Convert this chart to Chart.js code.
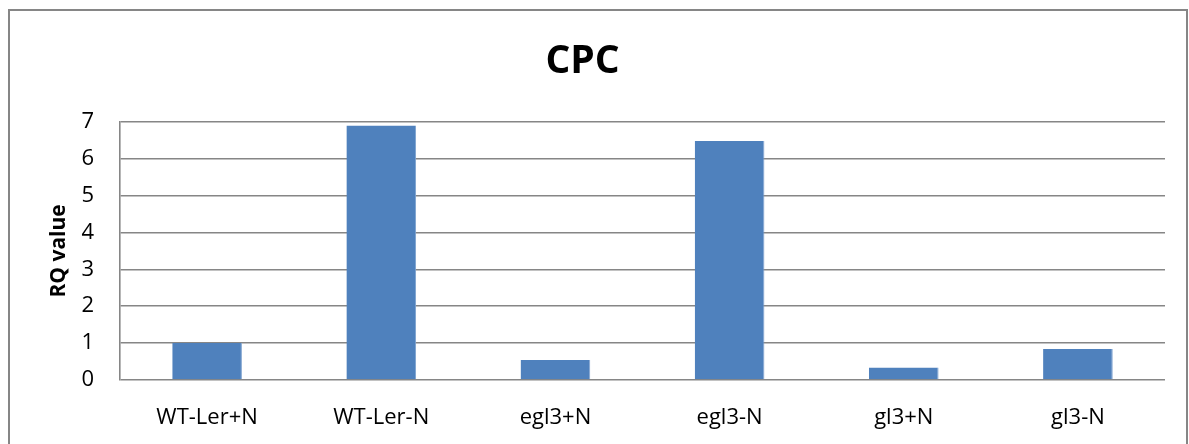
<!DOCTYPE html>
<html>
<head>
<meta charset="utf-8">
<script src="https://cdn.jsdelivr.net/npm/chart.js@4/dist/chart.umd.min.js"></script>
<style>
  html, body { margin: 0; padding: 0; background: #ffffff; }
  #wrap { width: 1189px; height: 444px; }
</style>
</head>
<body>
<div id="wrap"><canvas id="c" width="1189" height="444"></canvas></div>
<script>
// CPC relative expression per line and nitrogen condition
const categories = ['WT-Ler+N', 'WT-Ler-N', 'egl3+N', 'egl3-N', 'gl3+N', 'gl3-N'];
const rqValues = [1.0, 6.9, 0.54, 6.48, 0.34, 0.84];
const yTicks = [0, 1, 2, 3, 4, 5, 6, 7];

const FONT = '"Open Sans", "DejaVu Sans", sans-serif';
const GRID = '#868686';

// Frame around the whole chart
const framePlugin = {
  id: 'frame',
  beforeDraw(chart) {
    const ctx = chart.ctx;
    ctx.save();
    ctx.fillStyle = '#ffffff';
    ctx.fillRect(0, 0, chart.width, chart.height);
    ctx.strokeStyle = GRID;
    ctx.lineWidth = 2;
    ctx.strokeRect(9, 10, 1178, 500);
    ctx.restore();
  }
};

new Chart(document.getElementById('c'), {
  type: 'bar',
  data: {
    labels: categories,
    datasets: [{
      label: 'RQ value',
      data: rqValues,
      backgroundColor: '#4F81BD',
      borderColor: '#7FA3D0',
      borderWidth: { top: 0, left: 0, bottom: 0, right: 1 },
      barPercentage: 0.4,
      categoryPercentage: 1.0
    }]
  },
  options: {
    responsive: false,
    devicePixelRatio: 1,
    animation: false,
    layout: { padding: { left: 0, right: 24, top: 0, bottom: 0 } },
    plugins: {
      legend: { display: false },
      tooltip: { enabled: false },
      title: {
        display: true,
        text: 'CPC',
        color: '#000000',
        font: { family: FONT, size: 39, weight: 'bold', lineHeight: 1.2 },
        padding: { top: 38, bottom: 37 }
      }
    },
    scales: {
      x: {
        grid: { display: false, drawTicks: false },
        border: { display: false },
        ticks: {
          color: '#000000',
          padding: 25,
          font: { family: FONT, size: 22 },
          maxRotation: 0
        },
        afterFit(scale) { scale.height = 444 - 380; }
      },
      y: {
        min: 0,
        max: 7,
        afterBuildTicks(scale) { scale.ticks = yTicks.map(v => ({ value: v })); },
        grid: { color: GRID, lineWidth: 1.6, drawTicks: false },
        border: { display: true, color: GRID, width: 1.6 },
        ticks: {
          color: '#000000',
          padding: 26,
          font: { family: FONT, size: 22 }
        },
        title: {
          display: true,
          text: 'RQ value',
          color: '#000000',
          font: { family: FONT, size: 21, weight: 'bold', lineHeight: 1.2 },
          padding: { top: 46, bottom: 0 }
        },
        afterFit(scale) { scale.width = 120; }
      }
    }
  },
  plugins: [framePlugin]
});
</script>
</body>
</html>
